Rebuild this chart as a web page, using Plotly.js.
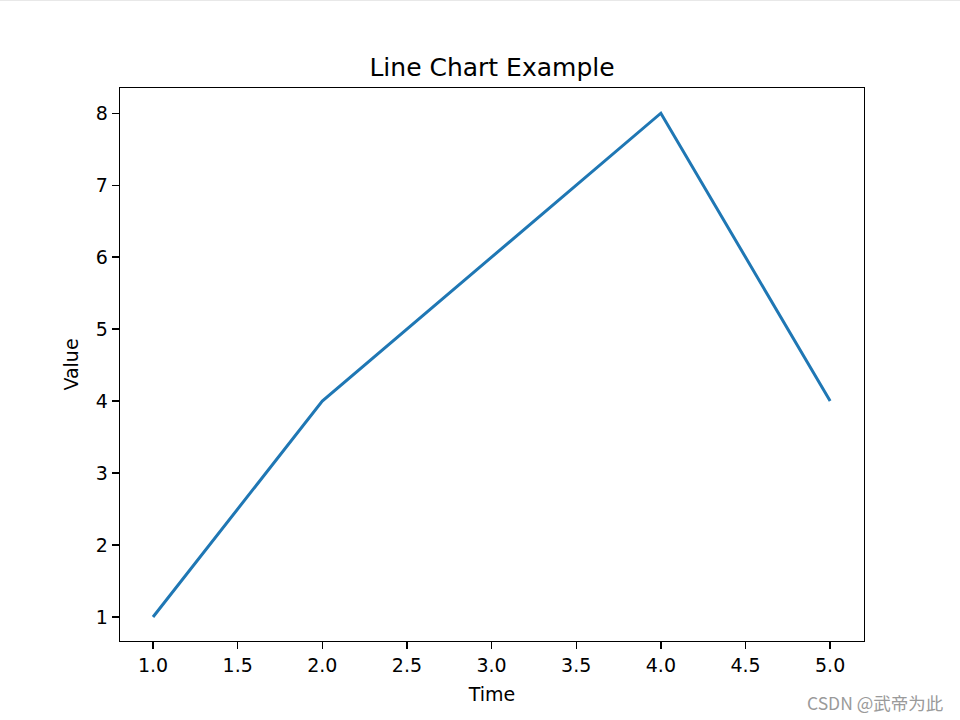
<!DOCTYPE html>
<html>
<head>
<meta charset="utf-8">
<script src="https://cdn.plot.ly/plotly-3.0.1.min.js"></script>
<style>html,body{margin:0;padding:0;background:#fff;}#chart{width:960px;height:720px;}</style>
</head>
<body>
<div id="chart"></div>
<script>
const timeValues = [1, 2, 3, 4, 5];
const seriesValues = [1, 4, 6, 8, 4];
const xTickVals = [1.0, 1.5, 2.0, 2.5, 3.0, 3.5, 4.0, 4.5, 5.0];
const xTickText = ["1.0", "1.5", "2.0", "2.5", "3.0", "3.5", "4.0", "4.5", "5.0"];
const yTickVals = [1, 2, 3, 4, 5, 6, 7, 8];

const font = "DejaVu Sans, sans-serif";
const axisCommon = {
  showgrid: false, zeroline: false, showline: true, mirror: true,
  linecolor: "#000", linewidth: 1.3, ticks: "outside", ticklen: 7, tickwidth: 1.3,
  tickcolor: "#000", tickfont: {family: font, size: 19, color: "#000"}
};

Plotly.newPlot("chart", [{
  x: timeValues, y: seriesValues, type: "scatter", mode: "lines",
  line: {color: "#1f77b4", width: 3}
}], {
  width: 960, height: 720,
  paper_bgcolor: "#fff", plot_bgcolor: "#fff",
  margin: {l: 120, r: 96, t: 88, b: 79},
  showlegend: false,
  title: {text: "Line Chart Example", font: {family: font, size: 25, color: "#000"},
          x: 0.5125, xanchor: "center", y: 1 - 67/720, yanchor: "middle"},
  xaxis: Object.assign({}, axisCommon, {
    range: [0.805, 5.2], tickvals: xTickVals, ticktext: xTickText,
    title: {text: "Time", font: {family: font, size: 19, color: "#000"}, standoff: 12}
  }),
  yaxis: Object.assign({}, axisCommon, {
    range: [0.667, 8.35], tickvals: yTickVals,
    title: {text: "Value", font: {family: font, size: 19, color: "#000"}, standoff: 12}
  }),
  shapes: [
    {type: "line", xref: "paper", yref: "paper", x0: -0.2, x1: 1.2, y0: 1 + 88/553, y1: 1 + 88/553,
     line: {color: "#e8e8e8", width: 2}}
  ],
  annotations: [{
    text: "CSDN @武帝为此", xref: "paper", yref: "paper",
    x: (945 - 120) / 744, y: -(702 - 641) / 553, xanchor: "right", yanchor: "middle",
    showarrow: false, font: {family: "Noto Sans CJK SC, sans-serif", size: 17.5, color: "#9a9a9a"}
  }]
}, {displayModeBar: false, staticPlot: true});
</script>
</body>
</html>
